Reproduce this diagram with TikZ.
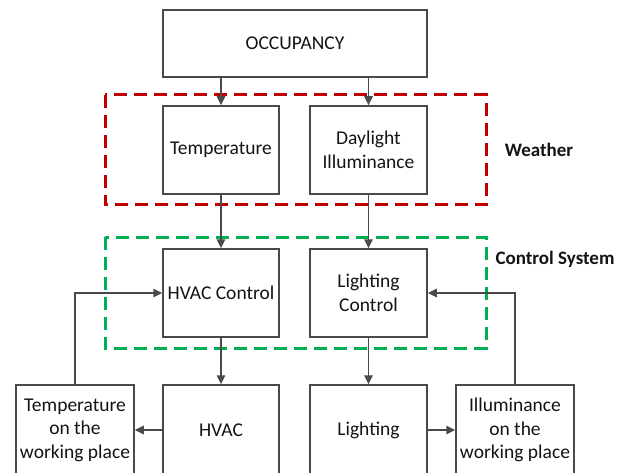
\documentclass[tikz,border=0pt]{standalone}
\usepackage{fontspec}
\setmainfont{Carlito}
\usetikzlibrary{arrows.meta}
\definecolor{linegray}{HTML}{4A4A4A}
\definecolor{txt}{HTML}{141414}
\definecolor{wred}{HTML}{C00000}
\definecolor{cgreen}{HTML}{00B050}
\tikzset{
  blk/.style={draw=linegray, line width=1.5pt, fill=white, text=txt, align=center,
    inner sep=0pt, font=\fontsize{19.5}{23.5}\selectfont},
  conn/.style={draw=linegray, line width=1.5pt, -{Triangle[length=9pt,width=8.5pt]}},
  grp/.style={line width=3pt, dash pattern=on 13pt off 7pt},
  lbl/.style={text=txt, font=\fontsize{19}{22}\selectfont\bfseries}
}
\begin{document}
\begin{tikzpicture}[x=1pt,y=-1pt]
\clip (0,0) rectangle (629,473);
\fill[white] (0,0) rectangle (629,473);
% groups
\draw[grp, wred] (105,95) rectangle (486,205);
\draw[grp, cgreen] (105,237) rectangle (486,348);
% nodes
\node[blk, minimum width=264pt, minimum height=67pt] (occ) at (295,43.5) {OCCUPANCY};
\node[blk, minimum width=116pt, minimum height=88pt] (temp) at (221,150) {Temperature};
\node[blk, minimum width=117pt, minimum height=88pt] (day) at (368.5,150) {Daylight\\Illuminance};
\node[blk, minimum width=116pt, minimum height=88pt] (hvacc) at (221,293) {HVAC Control};
\node[blk, minimum width=117pt, minimum height=88pt] (lightc) at (368.5,293) {Lighting\\Control};
\node[blk, minimum width=118pt, minimum height=90pt] (tw) at (75,430) {Temperature\\on the\\working place};
\node[blk, minimum width=116pt, minimum height=90pt] (hvac) at (221,430) {HVAC};
\node[blk, minimum width=117pt, minimum height=90pt] (light) at (368.5,430) {Lighting};
\node[blk, minimum width=118pt, minimum height=90pt] (illum) at (515,430) {Illuminance\\on the\\working place};
% labels
\node[lbl] (wlbl) at (539,150) {Weather};
\node[lbl] (clbl) at (555,259) {Control System};
% connectors
\draw[conn] (occ.south -| temp.north) -- (temp.north);
\draw[conn] (occ.south -| day.north) -- (day.north);
\draw[conn] (temp.south) -- (hvacc.north);
\draw[conn] (day.south) -- (lightc.north);
\draw[conn] (hvacc.south) -- (hvac.north);
\draw[conn] (lightc.south) -- (light.north);
\draw[conn] (hvac.west) -- (tw.east);
\draw[conn] (light.east) -- (illum.west);
\draw[conn] (tw.north) |- (hvacc.west);
\draw[conn] (illum.north) |- (lightc.east);
\end{tikzpicture}
\end{document}
